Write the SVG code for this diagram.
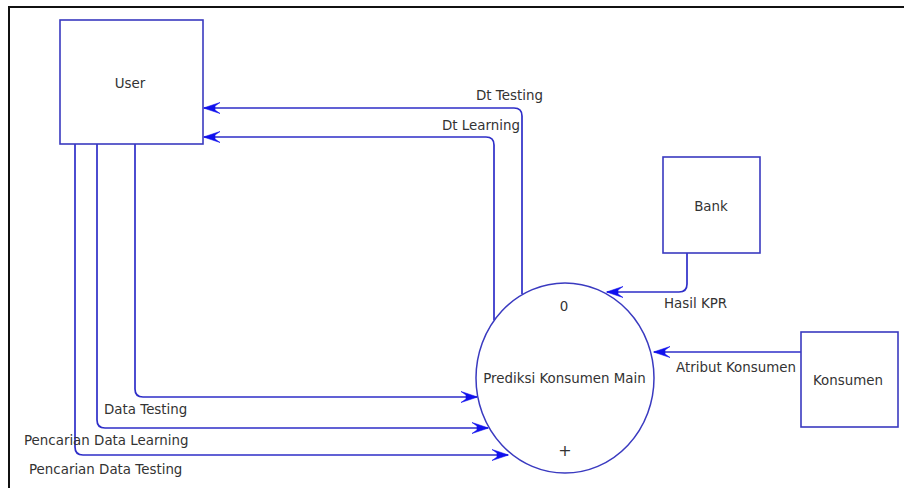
<svg xmlns="http://www.w3.org/2000/svg" width="904" height="488" viewBox="0 0 904 488">
<style>
  .box { fill: #ffffff; stroke: #3a3ac0; stroke-width: 1.6; }
  .proc { fill: #ffffff; stroke: #3a3ac0; stroke-width: 1.5; }
  .flow { fill: none; stroke: #2e2ec8; stroke-width: 1.7; marker-end: url(#arr); }
  text { font-family: "DejaVu Sans", "Liberation Sans", sans-serif; font-size: 13.4px; fill: #333333; }
  .c { text-anchor: middle; }
</style>
<defs>
  <marker id="arr" viewBox="-17 -6 18 12" refX="0" refY="0" markerWidth="18" markerHeight="12" markerUnits="userSpaceOnUse" orient="auto">
    <path d="M0.5,0 L-16,-5.5 L-11,-2 L-11,2 L-16,5.5 Z" fill="#1010ee" stroke="#1010ee" stroke-width="0.6" stroke-linejoin="round"/>
  </marker>
</defs>
<rect x="0" y="0" width="904" height="488" fill="#ffffff"/>
<rect x="9" y="7" width="920" height="520" fill="none" stroke="#111111" stroke-width="2"/>

<g id="connectors">
  <path id="dt-testing" class="flow" d="M522,294 L522,116 Q522,108 514,108 L204,108"/>
  <path id="dt-learning" class="flow" d="M494,320 L494,145 Q494,137 486,137 L204,137"/>
  <path id="hasil-kpr" class="flow" d="M687,253 L687,284 Q687,292 679,292 L607,292"/>
  <path id="atribut-konsumen" class="flow" d="M801,352 L654,352"/>
  <path id="data-testing" class="flow" d="M135,144 L135,389 Q135,397 143,397 L477,397"/>
  <path id="pencarian-learning" class="flow" d="M97,144 L97,420 Q97,428 105,428 L488,428"/>
  <path id="pencarian-testing" class="flow" d="M75,144 L75,447 Q75,455 83,455 L508,455"/>
  <text x="476" y="100">Dt Testing</text>
  <text x="442" y="130">Dt Learning</text>
  <text x="664" y="308">Hasil KPR</text>
  <text x="676" y="372">Atribut Konsumen</text>
  <text x="104" y="414">Data Testing</text>
  <text x="24" y="445">Pencarian Data Learning</text>
  <text x="29" y="474">Pencarian Data Testing</text>
</g>

<g id="user">
  <rect class="box" x="60" y="20" width="143" height="124"/>
  <text class="c" x="130" y="88">User</text>
</g>

<g id="bank">
  <rect class="box" x="663" y="157" width="97" height="96"/>
  <text class="c" x="711" y="211">Bank</text>
</g>

<g id="konsumen">
  <rect class="box" x="801" y="332" width="97" height="95"/>
  <text class="c" x="848" y="385">Konsumen</text>
</g>

<g id="prediksi">
  <ellipse class="proc" cx="565" cy="378" rx="89" ry="95"/>
  <text class="c" x="564" y="311">0</text>
  <text class="c" x="564.5" y="383">Prediksi Konsumen Main</text>
  <text class="c" x="565" y="456" style="font-size:16px">+</text>
</g>
</svg>
